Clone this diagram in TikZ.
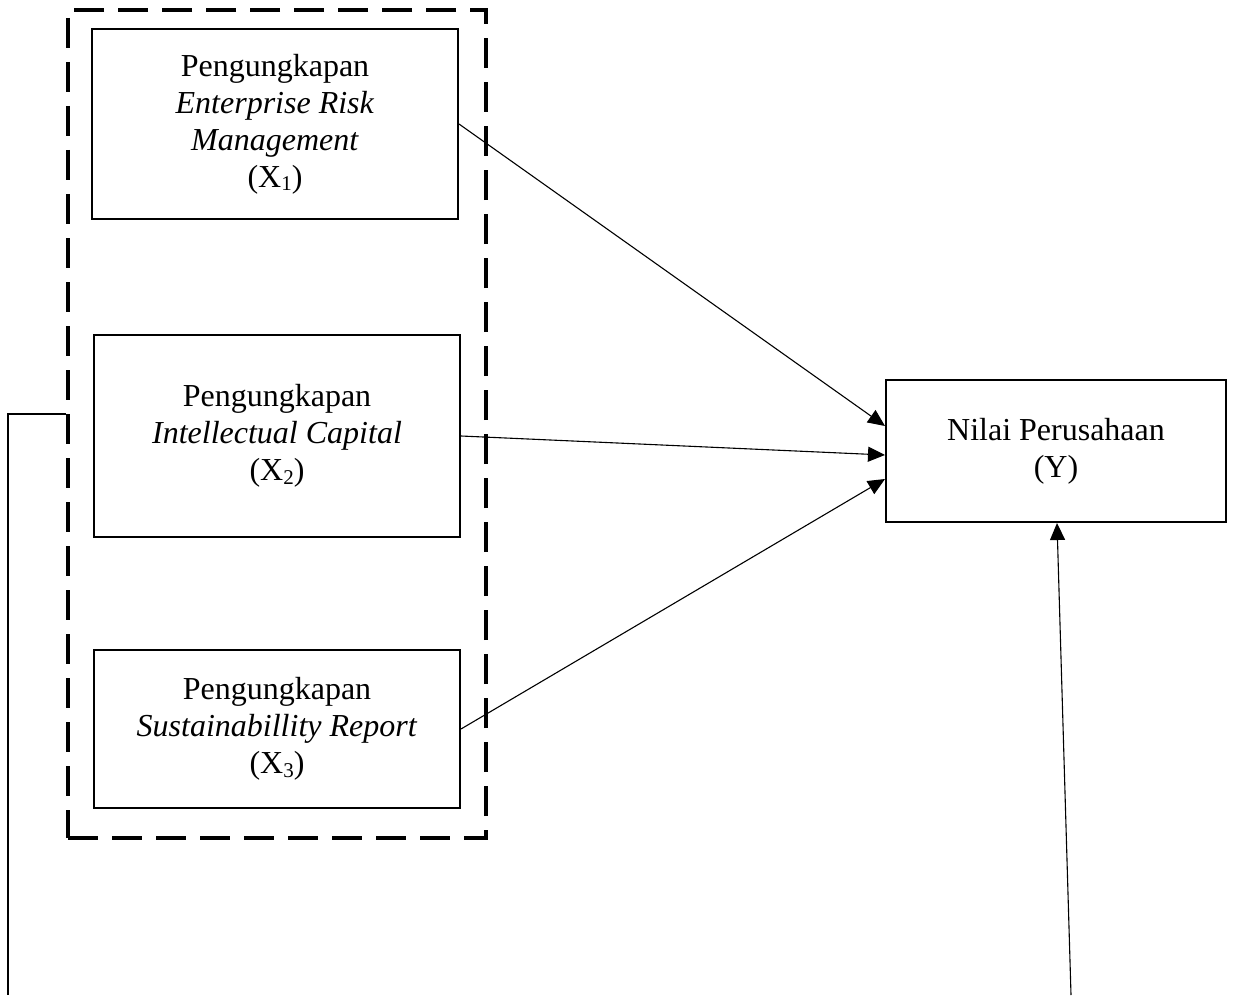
\documentclass[tikz,border=0pt]{standalone}
\usepackage{fontspec}
\setmainfont{Liberation Serif}
\usetikzlibrary{arrows.meta}
\newcommand\subn[1]{\raisebox{-0.25ex}{\fontsize{21}{21}\selectfont #1}}
\tikzset{
  varbox/.style={draw, line width=2pt, align=center, inner sep=0pt, font=\fontsize{32}{37}\selectfont},
  groupbox/.style={draw, line width=4pt, dash pattern=on 30pt off 14pt, inner sep=0pt},
  link/.style={line width=1.1pt, -{Triangle[length=17pt,width=15pt]}},
  plain/.style={line width=1.1pt}
}
\begin{document}
\begin{tikzpicture}[x=1pt,y=-1pt]
\useasboundingbox (0,0) rectangle (1241,995);
\node[groupbox, minimum width=418pt, minimum height=828pt] (grp) at (277,424) {};
\node[varbox, minimum width=366pt, minimum height=190pt] (b1) at (275,124)
  {Pengungkapan\\ \textit{Enterprise Risk}\\ \textit{Management}\\ (X\subn{1})};
\node[varbox, minimum width=366pt, minimum height=202pt] (b2) at (277,436)
  {Pengungkapan\\ \textit{Intellectual Capital}\\ (X\subn{2})};
\node[varbox, minimum width=366pt, minimum height=158pt] (b3) at (277,729)
  {Pengungkapan\\ \textit{Sustainabillity Report}\\ (X\subn{3})};
\node[varbox, minimum width=340pt, minimum height=142pt] (y) at (1056,451)
  {Nilai Perusahaan\\ (Y)};
\coordinate (lb) at (8,995);
\coordinate (rb) at (1071,995);
\draw[link] (b1.east) -- ([yshift=25pt]y.west);
\draw[link] (b2.east) -- ([yshift=-4pt]y.west);
\draw[link] (b3.east) -- ([yshift=-28pt]y.west);
\draw[plain] ([yshift=10pt]grp.west) -| (lb);
\draw[link] (rb) -- ([xshift=1pt]y.south);
\end{tikzpicture}
\end{document}
